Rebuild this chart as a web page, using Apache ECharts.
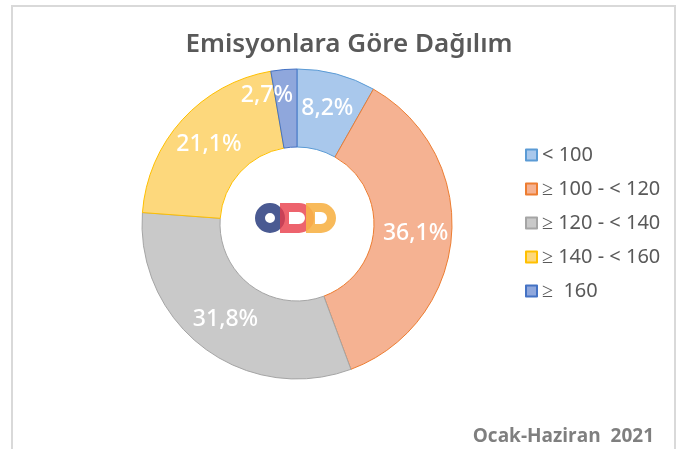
<!DOCTYPE html>
<html>
<head>
<meta charset="utf-8">
<script src="https://cdn.jsdelivr.net/npm/echarts@6/dist/echarts.min.js"></script>
<style>
  html, body { margin: 0; padding: 0; background: #fff; }
  #chart { width: 686px; height: 449px; }
</style>
</head>
<body>
<div id="chart"></div>
<script>
const categories = ['< 100', '≥ 100 - < 120', '≥ 120 - < 140', '≥ 140 - < 160', '≥  160'];
const shares = [8.2, 36.1, 31.8, 21.1, 2.7];
const fills = ['#a9c8ec', '#f5b292', '#c9c9c9', '#fdd87c', '#8fa7dc'];
const edges = ['#5b9bd5', '#ed7d31', '#a5a5a5', '#ffc000', '#4472c4'];

// D shaped mark of the logo, hole drawn the other way round
const DMark = echarts.graphic.extendShape({
  shape: { x0: 0, cx: 0, cy: 0, r: 0, hx: 0, r2: 0 },
  buildPath(ctx, s) {
    ctx.moveTo(s.x0, s.cy - s.r);
    ctx.lineTo(s.cx, s.cy - s.r);
    ctx.arc(s.cx, s.cy, s.r, -Math.PI / 2, Math.PI / 2, false);
    ctx.lineTo(s.x0, s.cy + s.r);
    ctx.closePath();
    ctx.moveTo(s.hx, s.cy - s.r2);
    ctx.lineTo(s.hx, s.cy + s.r2);
    ctx.lineTo(s.cx, s.cy + s.r2);
    ctx.arc(s.cx, s.cy, s.r2, Math.PI / 2, -Math.PI / 2, true);
    ctx.closePath();
  }
});
echarts.graphic.registerShape('dmark', DMark);

const chart = echarts.init(document.getElementById('chart'));
const option = {
  backgroundColor: '#fff',
  title: [{
    text: 'Emisyonlara Göre Dağılım',
    left: 344,
    top: 27,
    textAlign: 'center',
    textStyle: {
      fontFamily: 'Noto Sans',
      fontSize: 26,
      fontWeight: 600,
      color: '#595959'
    }
  }, {
    text: 'Ocak-Haziran  2021',
    right: 27,
    top: 422,
    textStyle: {
      fontFamily: 'Open Sans',
      fontSize: 19,
      fontWeight: 'bold',
      color: '#7f7f7f'
    }
  }],
  legend: {
    orient: 'vertical',
    left: 520,
    top: 140,
    itemWidth: 11,
    itemHeight: 11,
    itemGap: 14,
    icon: 'rect',
    textStyle: {
      fontFamily: 'Noto Sans',
      fontSize: 20,
      color: '#595959',
      lineHeight: 20
    },
    data: categories
  },
  graphic: [{
    type: 'rect',
    shape: { x: 12, y: 6, width: 663, height: 460 },
    style: { fill: 'none', stroke: '#d9d9d9', lineWidth: 2 },
    silent: true
  }, {
    type: 'ring',
    shape: { cx: 270, cy: 218, r: 15, r0: 5 },
    style: { fill: '#4a5a92' },
    z: 10
  }, {
    type: 'dmark',
    shape: { x0: 280, cx: 299, cy: 218, r: 15, hx: 289, r2: 6 },
    style: { fill: 'rgba(232,60,72,0.8)' },
    z: 11
  }, {
    type: 'dmark',
    shape: { x0: 306, cx: 321, cy: 218, r: 15, hx: 315, r2: 6 },
    style: { fill: 'rgba(247,178,72,0.9)' },
    z: 12
  }],
  series: [{
    type: 'pie',
    center: [297, 224],
    radius: [77, 155],
    startAngle: 90,
    clockwise: true,
    avoidLabelOverlap: false,
    label: {
      show: true,
      position: 'inside',
      formatter: p => p.value.toFixed(1).replace('.', ',') + '%',
      fontFamily: 'Noto Sans',
      fontSize: 23,
      fontWeight: 500,
      color: '#fff'
    },
    labelLine: { show: false },
    emphasis: { disabled: true },
    data: categories.map((name, i) => ({
      name: name,
      value: shares[i],
      itemStyle: { color: fills[i], borderColor: edges[i], borderWidth: 1 },
      label: i === 4 ? { offset: [-20, -10] } : {}
    }))
  }]
};
chart.setOption(option);
</script>
</body>
</html>
